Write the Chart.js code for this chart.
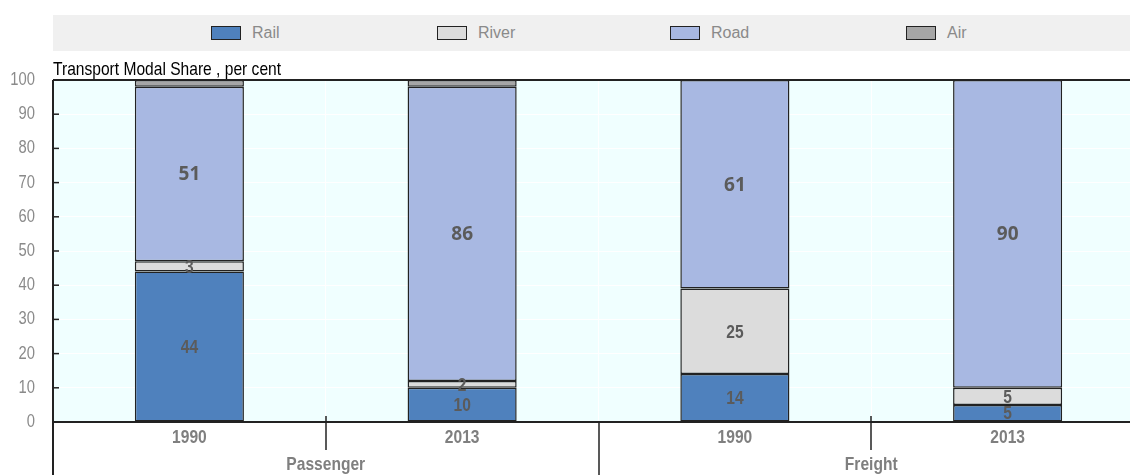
<!DOCTYPE html>
<html><head><meta charset="utf-8">
<script src="https://cdn.jsdelivr.net/npm/chart.js@4.4.0/dist/chart.umd.min.js"></script>
<style>
html,body{margin:0;padding:0;background:#fff;overflow:hidden;width:1130px;height:475px;}
#wrap{position:absolute;left:0;top:0;width:1144px;height:475px;}
#legend{position:absolute;left:53px;top:15px;width:1077px;height:36px;background:#f0f0f0;font-family:"Liberation Sans",Arial,sans-serif;font-size:16px;color:#8a8a8a;}
.item{position:absolute;top:0;height:36px;display:flex;align-items:center;}
.box{width:28px;height:12px;border:1px solid #222;margin-right:11px;}
</style></head>
<body>
<div id="wrap"><canvas id="c" width="1144" height="475"></canvas></div>
<div id="legend"></div>
<script>
// ---- data ----
const groups = ["Passenger", "Freight"];
const years = ["1990", "2013", "1990", "2013"];
const seriesNames = ["Rail", "River", "Road", "Air"];
const rail = [44, 10, 14, 5];
const river = [3, 2, 25, 5];
const road = [51, 86, 61, 90];
const air = [2, 2, 0, 0];
const yMin = 0, yMax = 100, yStep = 10;
const yTitle = "Transport Modal Share , per cent";

// ---- styles ----
const colors = ["#4f81bd", "#dcdcdc", "#a8b8e2", "#a6a6a6"];
const SANS = '"Liberation Sans",Arial,sans-serif';
const WIDE = '"Open Sans","Noto Sans",sans-serif';
const NARROW_K = 0.82;
const legendLefts = [158, 384, 617, 853];

const seriesData = [rail, river, road, air];
const datasets = seriesNames.map((n, i) => ({
  label: n, data: seriesData[i], backgroundColor: colors[i],
  borderColor: "#222", borderWidth: 1.5, borderSkipped: false,
  barPercentage: 0.4, categoryPercentage: 1.0
}));

// legend (HTML, built from datasets)
const lg = document.getElementById("legend");
datasets.forEach((d, i) => {
  const it = document.createElement("div");
  it.className = "item"; it.style.left = legendLefts[i] + "px";
  const b = document.createElement("span"); b.className = "box"; b.style.background = d.backgroundColor;
  const t = document.createElement("span"); t.textContent = d.label;
  it.appendChild(b); it.appendChild(t); lg.appendChild(it);
});

function line(ctx, x1, y1, x2, y2) { ctx.beginPath(); ctx.moveTo(x1, y1); ctx.lineTo(x2, y2); ctx.stroke(); }
function narrow(ctx, text, x, y) {
  ctx.save(); ctx.translate(x, y); ctx.scale(NARROW_K, 1); ctx.fillText(text, 0, 0); ctx.restore();
}

const decor = {
  id: "decor",
  beforeDraw(chart) {
    const { ctx, chartArea: a } = chart;
    ctx.save(); ctx.fillStyle = "#f0ffff";
    ctx.fillRect(a.left, a.top, a.right - a.left, a.bottom - a.top); ctx.restore();
  },
  afterDatasetsDraw(chart) {
    const ctx = chart.ctx;
    ctx.save();
    ctx.textAlign = "center"; ctx.textBaseline = "middle"; ctx.fillStyle = "#5b5b5b";
    [0, 1, 2].forEach(di => {
      const meta = chart.getDatasetMeta(di);
      meta.data.forEach((el, i) => {
        const v = chart.data.datasets[di].data[i];
        if (!v) return;
        const cy = (el.y + el.base) / 2 + 1;
        if (di === 2) { ctx.font = "bold 19px " + WIDE; ctx.fillText(String(v), el.x, cy); }
        else { ctx.font = "bold 19px " + SANS; narrow(ctx, String(v), el.x, cy); }
      });
    });
    ctx.restore();
  },
  afterDraw(chart) {
    const { ctx, chartArea: a, scales: { x, y } } = chart;
    const H = chart.height;
    ctx.save();
    ctx.strokeStyle = "#222";
    ctx.lineWidth = 2;
    line(ctx, a.left, a.top, a.right, a.top);
    line(ctx, a.left, a.top, a.left, H);
    ctx.lineWidth = 1.5;
    y.ticks.forEach(t => { const py = y.getPixelForValue(t.value); line(ctx, a.left, py, a.left + 6, py); });
    for (let i = 0; i < years.length - 1; i++) {
      const bx = Math.round((x.getPixelForValue(i) + x.getPixelForValue(i + 1)) / 2);
      if ((i + 1) % 2 === 0) line(ctx, bx, a.bottom, bx, H);
      else line(ctx, bx, a.bottom - 6, bx, a.bottom + 28);
    }
    // y tick labels
    ctx.fillStyle = "#8a8a8a"; ctx.textAlign = "right"; ctx.textBaseline = "middle";
    ctx.font = "18px " + SANS;
    y.ticks.forEach(t => narrow(ctx, t.label, a.left - 18, y.getPixelForValue(t.value)));
    // x tick labels
    ctx.fillStyle = "#7f7f7f"; ctx.textAlign = "center"; ctx.textBaseline = "alphabetic";
    ctx.font = "bold 19px " + SANS;
    x.ticks.forEach((t, i) => narrow(ctx, x.getLabelForValue(t.value), x.getPixelForValue(t.value), a.bottom + 21));
    // group labels
    groups.forEach((g, gi) => {
      const cx = (x.getPixelForValue(gi * 2) + x.getPixelForValue(gi * 2 + 1)) / 2;
      narrow(ctx, g, cx, a.bottom + 48);
    });
    // axis title
    ctx.fillStyle = "#000"; ctx.textAlign = "left";
    ctx.font = "19px " + SANS;
    narrow(ctx, yTitle, a.left, a.top - 5);
    ctx.restore();
  }
};

new Chart(document.getElementById("c"), {
  type: "bar",
  data: { labels: years, datasets },
  options: {
    responsive: false, animation: false, devicePixelRatio: 1,
    layout: { padding: { top: 80, right: 0, left: 0, bottom: 0 } },
    plugins: { legend: { display: false }, tooltip: { enabled: false } },
    scales: {
      x: {
        stacked: true,
        afterFit: s => { s.height = 53; },
        grid: { offset: true, color: "#ffffff", lineWidth: 1, drawTicks: false },
        border: { display: true, color: "#222", width: 2 },
        ticks: { display: false }
      },
      y: {
        stacked: true, min: yMin, max: yMax,
        afterFit: s => { s.width = 53; },
        grid: { color: "#ffffff", lineWidth: 1, drawTicks: false },
        border: { display: false },
        ticks: { stepSize: yStep, display: false }
      }
    }
  },
  plugins: [decor]
});
</script>
</body></html>
